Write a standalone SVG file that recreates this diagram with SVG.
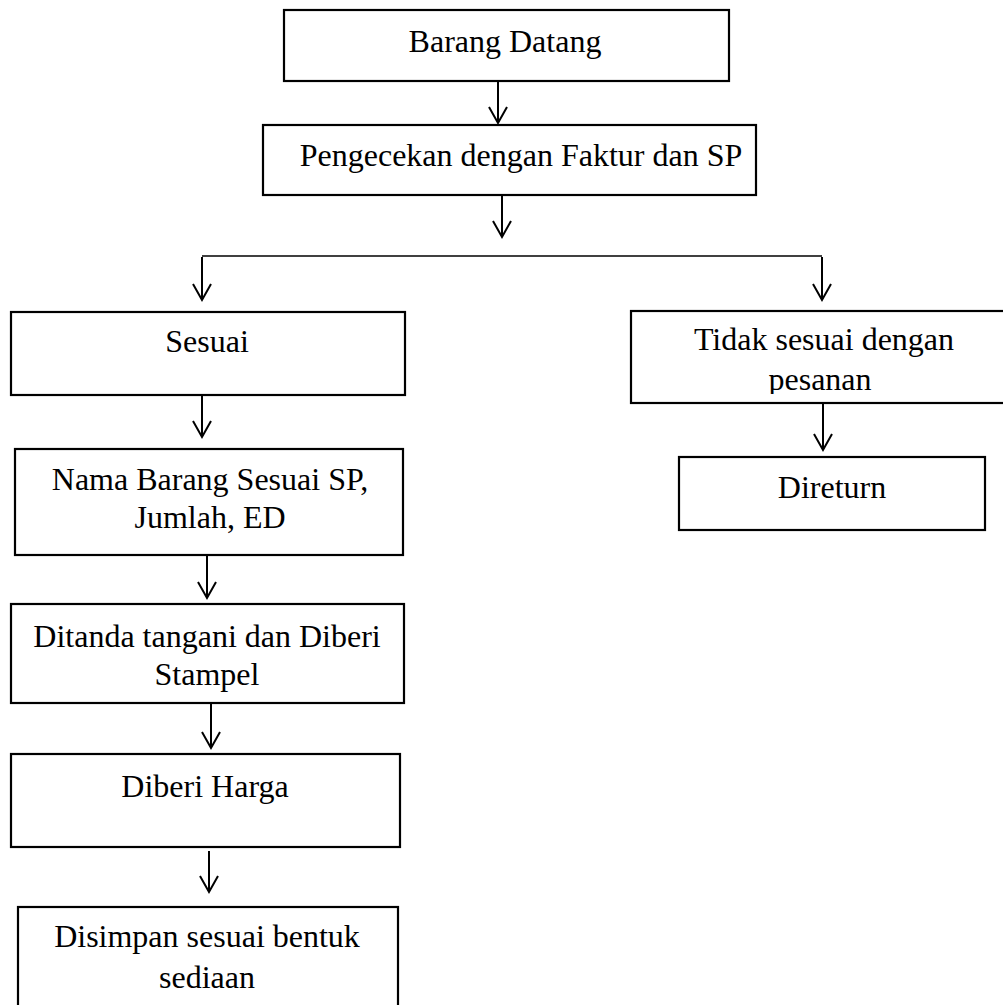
<svg xmlns="http://www.w3.org/2000/svg" width="1003" height="1005" viewBox="0 0 1003 1005">
<style>
.box{fill:#fff;stroke:#000;stroke-width:2.2}
.t{font-family:"Liberation Serif","Times New Roman",serif;font-size:32px;fill:#000;text-anchor:middle}
.c{fill:none;stroke:#000;stroke-width:2}
.h{fill:none;stroke:#000;stroke-width:1.3}
</style>
<defs>
<marker id="ah" markerUnits="userSpaceOnUse" markerWidth="22" markerHeight="24" viewBox="-18 -12 22 24" refX="0" refY="0" orient="auto">
<path d="M-16,-9 L0,0 L-16,9" fill="none" stroke="#000" stroke-width="2"/>
</marker>
<clipPath id="clipT"><rect x="631" y="310" width="380" height="84"/></clipPath>
</defs>
<rect width="1003" height="1005" fill="#fff"/>
<g id="connectors">
<line class="c" x1="498" y1="81" x2="498" y2="123" marker-end="url(#ah)"/>
<line class="c" x1="502" y1="195" x2="502" y2="237" marker-end="url(#ah)"/>
<line class="h" x1="202" y1="256" x2="822" y2="256"/>
<line class="c" x1="202" y1="257" x2="202" y2="300" marker-end="url(#ah)"/>
<line class="c" x1="822" y1="257" x2="822" y2="300" marker-end="url(#ah)"/>
<line class="c" x1="202" y1="395" x2="202" y2="437" marker-end="url(#ah)"/>
<line class="c" x1="823" y1="404" x2="823" y2="450" marker-end="url(#ah)"/>
<line class="c" x1="207" y1="555" x2="207" y2="598" marker-end="url(#ah)"/>
<line class="c" x1="211" y1="703" x2="211" y2="748" marker-end="url(#ah)"/>
<line class="c" x1="209" y1="851" x2="209" y2="892" marker-end="url(#ah)"/>
</g>
<g id="n1"><rect class="box" x="284" y="10" width="445" height="71"/><text class="t" x="505" y="52">Barang Datang</text></g>
<g id="n2"><rect class="box" x="263" y="125" width="493" height="70"/><text class="t" x="521" y="166">Pengecekan dengan Faktur dan SP</text></g>
<g id="n3"><rect class="box" x="11" y="312" width="394" height="83"/><text class="t" x="207" y="352">Sesuai</text></g>
<g id="n4"><rect class="box" x="631" y="311" width="390" height="92"/><text class="t" x="824" y="350">Tidak sesuai dengan</text><text class="t" x="820" y="390" clip-path="url(#clipT)">pesanan</text></g>
<g id="n5"><rect class="box" x="679" y="457" width="306" height="73"/><text class="t" x="832" y="498">Direturn</text></g>
<g id="n6"><rect class="box" x="15" y="449" width="388" height="106"/><text class="t" x="210" y="490">Nama Barang Sesuai SP,</text><text class="t" x="210" y="528">Jumlah, ED</text></g>
<g id="n7"><rect class="box" x="11" y="604" width="393" height="99"/><text class="t" x="207" y="647">Ditanda tangani dan Diberi</text><text class="t" x="207" y="685">Stampel</text></g>
<g id="n8"><rect class="box" x="11" y="754" width="389" height="93"/><text class="t" x="205" y="797">Diberi Harga</text></g>
<g id="n9"><rect class="box" x="18" y="907" width="380" height="110"/><text class="t" x="207" y="947">Disimpan sesuai bentuk</text><text class="t" x="207" y="988">sediaan</text></g>
</svg>
